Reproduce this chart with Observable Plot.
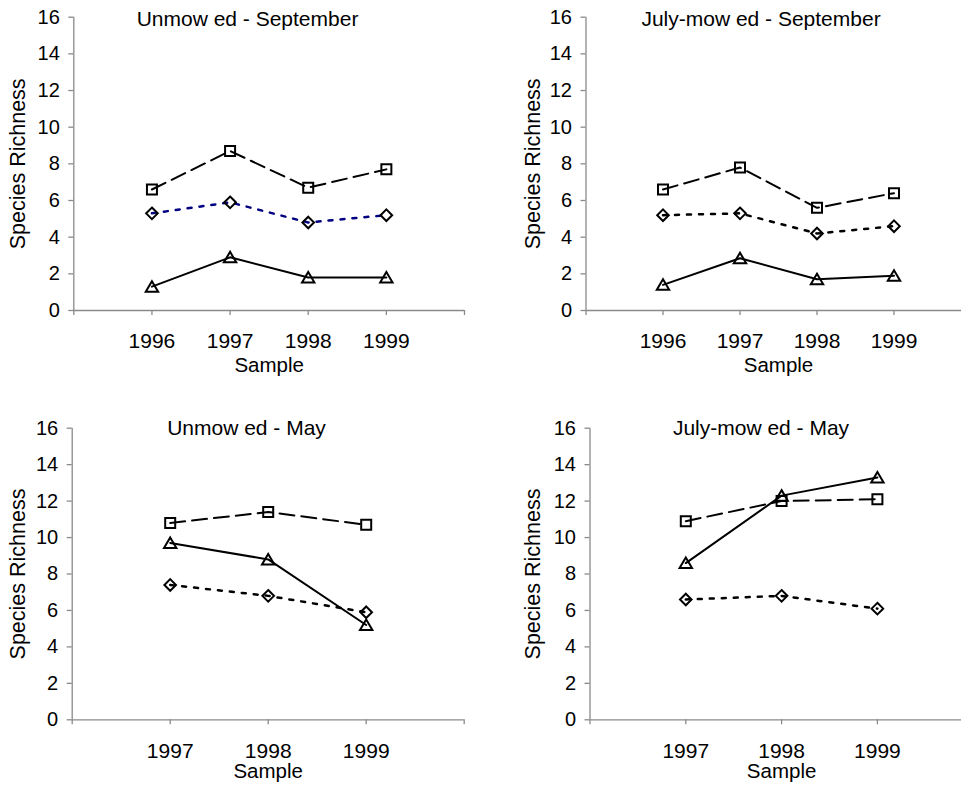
<!DOCTYPE html>
<html>
<head>
<meta charset="utf-8">
<script src="https://cdn.jsdelivr.net/npm/d3@7"></script>
<script src="https://cdn.jsdelivr.net/npm/@observablehq/plot@0.6"></script>
<style>
  html, body { margin: 0; padding: 0; background: #fff; overflow: hidden; }
  #chart { position: relative; width: 961px; height: 791px; overflow: hidden; background: #fff; }
  .panel { position: absolute; }
  .panel svg { overflow: visible; max-width: none !important; display: block; }
</style>
</head>
<body>
<div id="chart"></div>
<script>
// Species richness by sample year, for unmowed and July-mowed plots,
// sampled in September (1996-1999) and in May (1997-1999).

const yTicks = [0, 2, 4, 6, 8, 10, 12, 14, 16];
const septYears = [1996, 1997, 1998, 1999];
const mayYears = [1997, 1998, 1999];
const septAxisYears = [1995, 1996, 1997, 1998, 1999, 2000];
const mayAxisYears = [1996, 1997, 1998, 1999, 2000];

// Unmowed - September
const unmowedSeptSquares = [6.6, 8.7, 6.7, 7.7];
const unmowedSeptDiamonds = [5.3, 5.9, 4.8, 5.2];
const unmowedSeptTriangles = [1.3, 2.9, 1.8, 1.8];

// July-mowed - September
const julySeptSquares = [6.6, 7.8, 5.6, 6.4];
const julySeptDiamonds = [5.2, 5.3, 4.2, 4.6];
const julySeptTriangles = [1.4, 2.85, 1.7, 1.9];

// Unmowed - May
const unmowedMaySquares = [10.8, 11.4, 10.7];
const unmowedMayDiamonds = [7.4, 6.8, 5.9];
const unmowedMayTriangles = [9.7, 8.8, 5.2];

// July-mowed - May
const julyMaySquares = [10.9, 12.0, 12.1];
const julyMayDiamonds = [6.6, 6.8, 6.1];
const julyMayTriangles = [8.6, 12.3, 13.3];

const FONT = "'Liberation Sans', Arial, Helvetica, sans-serif";
const AXIS_GRAY = "#8a8a8a";

// Hollow marker shapes
const squareSymbol = {draw(c) { c.moveTo(-5, -5); c.lineTo(5, -5); c.lineTo(5, 5); c.lineTo(-5, 5); c.closePath(); }};
const diamondSymbol = {draw(c) { c.moveTo(0, -5.8); c.lineTo(5.8, 0); c.lineTo(0, 5.8); c.lineTo(-5.8, 0); c.closePath(); }};
const triangleSymbol = {draw(c) { c.moveTo(0, -5.5); c.lineTo(6.2, 5); c.lineTo(-6.2, 5); c.closePath(); }};

const panels = [
  {
    title: "Unmow ed - September", years: septYears, axisYears: septAxisYears,
    squares: unmowedSeptSquares, diamonds: unmowedSeptDiamonds, triangles: unmowedSeptTriangles,
    diamondColor: "#000080",
    left: 0, top: 0, width: 480, height: 395,
    marginLeft: 73.3, marginRight: 16, marginTop: 16.7, marginBottom: 85,
    titleDx: 173.7, titleDy: 1.6, yLabelDx: -55.3, sampleDy: 55.4
  },
  {
    title: "July-mow ed - September", years: septYears, axisYears: septAxisYears,
    squares: julySeptSquares, diamonds: julySeptDiamonds, triangles: julySeptTriangles,
    diamondColor: "#000",
    left: 480, top: 0, width: 500, height: 395,
    marginLeft: 105.5, marginRight: 9.5, marginTop: 16.7, marginBottom: 85,
    titleDx: 175, titleDy: 1.6, yLabelDx: -53.3, sampleDy: 55.4
  },
  {
    title: "Unmow ed - May", years: mayYears, axisYears: mayAxisYears,
    squares: unmowedMaySquares, diamonds: unmowedMayDiamonds, triangles: unmowedMayTriangles,
    diamondColor: "#000",
    left: 0, top: 395, width: 480, height: 396,
    marginLeft: 71.7, marginRight: 16.3, marginTop: 32.7, marginBottom: 71.7,
    titleDx: 174.3, titleDy: -0.1, yLabelDx: -53.7, sampleDy: 52.1
  },
  {
    title: "July-mow ed - May", years: mayYears, axisYears: mayAxisYears,
    squares: julyMaySquares, diamonds: julyMayDiamonds, triangles: julyMayTriangles,
    diamondColor: "#000",
    left: 480, top: 395, width: 500, height: 396,
    marginLeft: 109.5, marginRight: 7.3, marginTop: 32.7, marginBottom: 71.7,
    titleDx: 171, titleDy: -0.1, yLabelDx: -56.5, sampleDy: 52.1
  }
];

function series(years, values) {
  return years.map((year, i) => ({year, value: values[i]}));
}

function drawPanel(cfg) {
  const squares = series(cfg.years, cfg.squares);
  const diamonds = series(cfg.years, cfg.diamonds);
  const triangles = series(cfg.years, cfg.triangles);
  const xy = {x: "year", y: "value"};
  const dotStyle = {...xy, stroke: "#000", strokeWidth: 2, fill: "none"};

  return Plot.plot({
    width: cfg.width,
    height: cfg.height,
    marginLeft: cfg.marginLeft,
    marginRight: cfg.marginRight,
    marginTop: cfg.marginTop,
    marginBottom: cfg.marginBottom,
    style: {fontFamily: FONT, color: "#000", background: "none", overflow: "visible", maxWidth: "none"},
    x: {type: "linear", domain: [cfg.axisYears[0], cfg.axisYears[cfg.axisYears.length - 1]]},
    y: {type: "linear", domain: [0, 16]},
    marks: [
      Plot.axisY({
        ticks: yTicks, tickSize: 5, tickPadding: 9, fontSize: 20,
        stroke: AXIS_GRAY, strokeWidth: 1.3, label: null, tickFormat: d => String(d)
      }),
      Plot.axisX({
        ticks: cfg.axisYears, tickSize: 5, tickPadding: 18, fontSize: 21,
        stroke: AXIS_GRAY, strokeWidth: 1.3, label: null,
        tickFormat: d => (cfg.years.includes(d) ? String(d) : "")
      }),
      Plot.ruleX([cfg.axisYears[0]], {stroke: AXIS_GRAY, strokeWidth: 1.3}),
      Plot.ruleY([0], {stroke: AXIS_GRAY, strokeWidth: 1.3}),

      Plot.line(squares, {...xy, stroke: "#000", strokeWidth: 2, strokeDasharray: "15,7"}),
      Plot.line(diamonds, {...xy, stroke: cfg.diamondColor, strokeWidth: 2.5, strokeDasharray: "4,8"}),
      Plot.line(triangles, {...xy, stroke: "#000", strokeWidth: 2}),

      Plot.dot(squares, {...dotStyle, symbol: squareSymbol}),
      Plot.dot(diamonds, {...dotStyle, symbol: diamondSymbol}),
      Plot.dot(triangles, {...dotStyle, symbol: triangleSymbol}),

      Plot.text([cfg.title], {
        text: d => d, frameAnchor: "top-left", dx: cfg.titleDx, dy: cfg.titleDy,
        textAnchor: "middle", lineAnchor: "middle", fontSize: 21, fill: "#000"
      }),
      Plot.text(["Species Richness"], {
        text: d => d, frameAnchor: "left", dx: cfg.yLabelDx, rotate: -90,
        textAnchor: "middle", lineAnchor: "middle", fontSize: 21.5, fill: "#000"
      }),
      Plot.text(["Sample"], {
        text: d => d, frameAnchor: "bottom", dy: cfg.sampleDy,
        textAnchor: "middle", lineAnchor: "middle", fontSize: 20.5, fill: "#000"
      })
    ]
  });
}

const chart = document.getElementById("chart");
for (const cfg of panels) {
  const holder = document.createElement("div");
  holder.className = "panel";
  holder.style.left = cfg.left + "px";
  holder.style.top = cfg.top + "px";
  holder.style.width = cfg.width + "px";
  holder.style.height = cfg.height + "px";
  holder.appendChild(drawPanel(cfg));
  chart.appendChild(holder);
}
</script>
</body>
</html>
